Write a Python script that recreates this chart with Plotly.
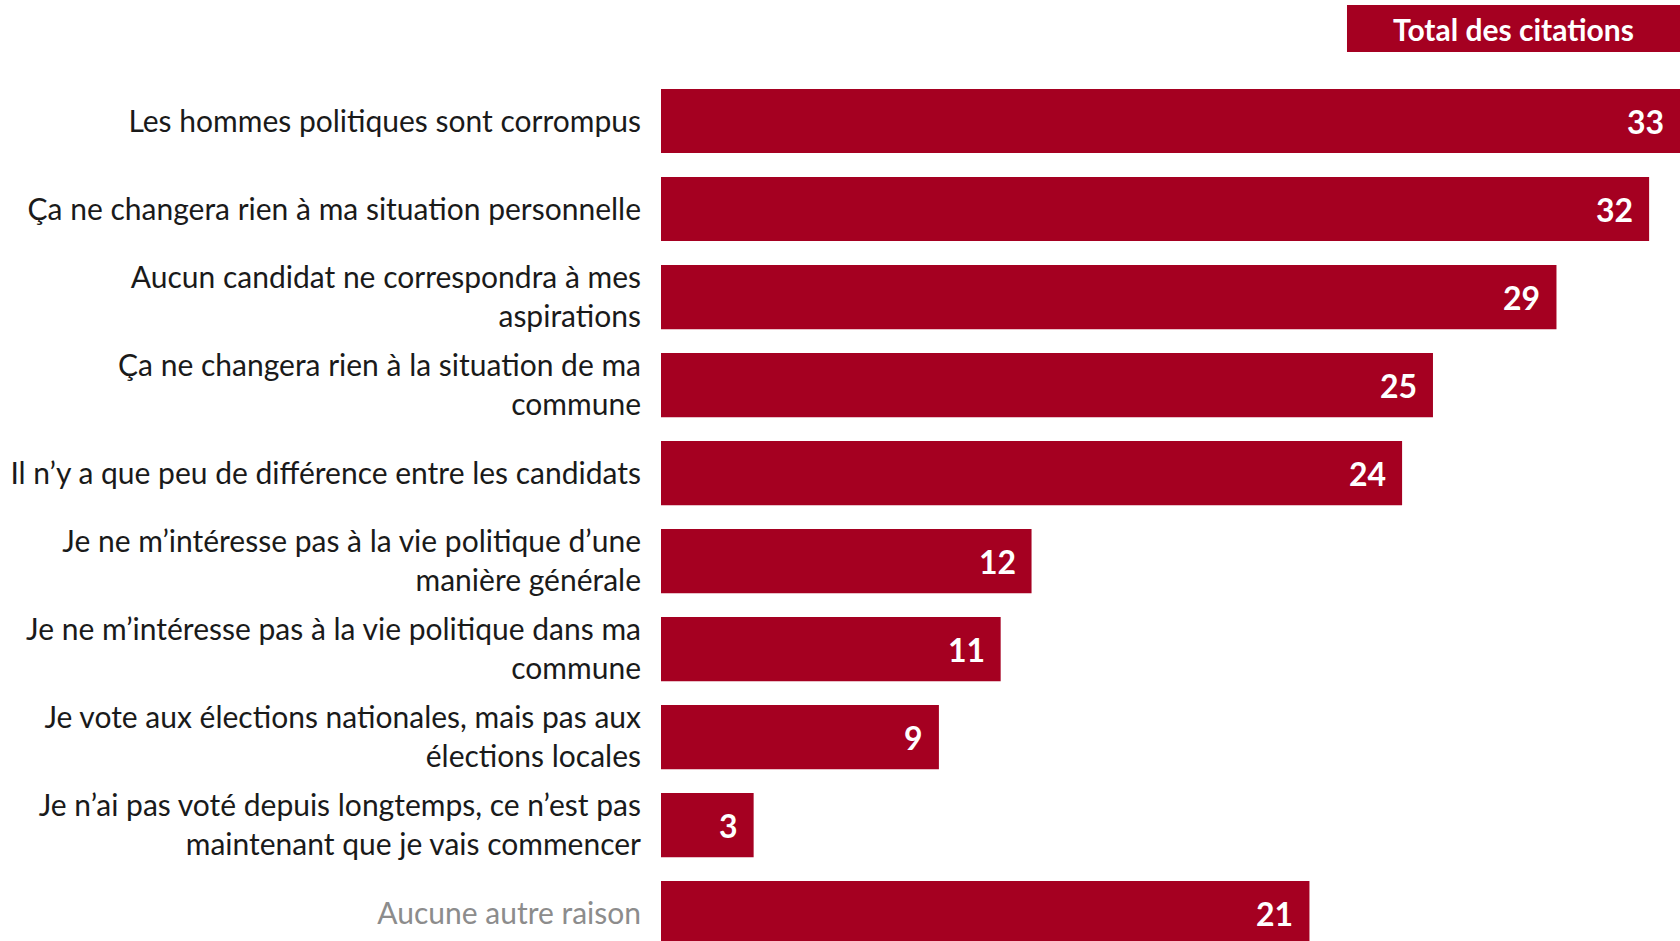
import plotly.graph_objects as go

# Survey answers (percent of mentions), listed top to bottom
categories = [
    "Les hommes politiques sont corrompus",
    "Ça ne changera rien à ma situation personnelle",
    "Aucun candidat ne correspondra à mes<br>aspirations",
    "Ça ne changera rien à la situation de ma<br>commune",
    "Il n’y a que peu de différence entre les candidats",
    "Je ne m’intéresse pas à la vie politique d’une<br>manière générale",
    "Je ne m’intéresse pas à la vie politique dans ma<br>commune",
    "Je vote aux élections nationales, mais pas aux<br>élections locales",
    "Je n’ai pas voté depuis longtemps, ce n’est pas<br>maintenant que je vais commencer",
    "Aucune autre raison",
]
values = [33, 32, 29, 25, 24, 12, 11, 9, 3, 21]
header = "Total des citations"

BAR = "#A50021"
FONT = "Lato, 'Open Sans', sans-serif"

positions = list(range(len(categories)))
tick_text = [
    f"<span style='color:#8C8C8C'>{c}</span>" if c == "Aucune autre raison" else c
    for c in categories
]

fig = go.Figure(
    go.Bar(
        x=values,
        y=positions,
        orientation="h",
        marker=dict(color=BAR, line=dict(width=0)),
        width=0.73,
        hoverinfo="skip",
    )
)

# value labels inside the bar ends
for p, v in zip(positions, values):
    fig.add_annotation(
        x=v, y=p, xref="x", yref="y",
        text=f"<b>{v}</b>", showarrow=False,
        xanchor="right", xshift=-14,
        font=dict(family=FONT, size=32, color="white"),
    )

# header box
fig.add_shape(
    type="rect", xref="paper", yref="paper",
    x0=0.6732, x1=1.0, y0=0.9447, y1=0.9947,
    fillcolor=BAR, line=dict(width=0), layer="above",
)
fig.add_annotation(
    x=(0.6732 + 1.0) / 2, y=(0.9447 + 0.9947) / 2,
    xref="paper", yref="paper", text=f"<b>{header}</b>",
    showarrow=False, xanchor="center", yanchor="middle",
    font=dict(family=FONT, size=30, color="white"),
)

fig.update_layout(
    width=1680, height=941,
    margin=dict(l=661, r=0, t=0, b=0),
    paper_bgcolor="white", plot_bgcolor="white",
    showlegend=False,
    font=dict(family=FONT, size=30, color="#1a1a1a"),
    xaxis=dict(range=[0, 33], visible=False, fixedrange=True),
    yaxis=dict(
        range=[9.318, -1.375],
        tickmode="array", tickvals=positions, ticktext=tick_text,
        ticks="outside", ticklen=13, tickcolor="rgba(0,0,0,0)",
        showgrid=False, zeroline=False, showline=False,
        tickfont=dict(family=FONT, size=30, color="#1a1a1a"),
    ),
)

fig.write_html("out.html")
